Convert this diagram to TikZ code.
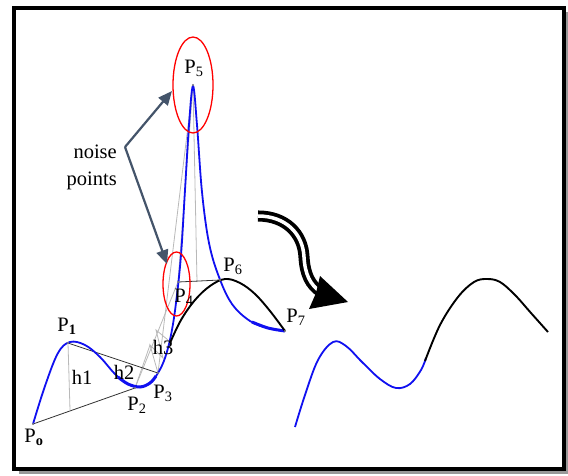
\documentclass[tikz,border=0pt]{standalone}
\usepackage{fontspec}
\setmainfont{Liberation Serif}
\usetikzlibrary{arrows.meta}
\definecolor{slate}{HTML}{44546A}
\definecolor{cblue}{HTML}{1010F0}
\tikzset{
  lbl/.style={inner sep=0pt, font=\fontsize{20.5}{27}\selectfont},
  greyline/.style={draw=gray!55, line width=0.8pt},
  chord/.style={draw=black!80, line width=0.8pt},
  bluecurve/.style={draw=cblue, line width=1.8pt},
  blackcurve/.style={draw=black, line width=1.9pt},
  noisearrow/.style={draw=slate, line width=2.2pt, -{Triangle[length=14pt,width=12pt]}},
  ring/.style={draw=red, line width=1.3pt},
}
\begin{document}
\begin{tikzpicture}[x=1pt,y=-1pt]
\useasboundingbox (0,0) rectangle (568,475);
% frame with shadow
\fill[gray!80] (19,12) rectangle (568,474);
\fill[white] (14,8) rectangle (564,469);
\draw[line width=4pt] (14,8) rectangle (564,469);

% points
\coordinate (P0) at (33,424);
\coordinate (P1) at (68,343);
\coordinate (P2) at (135,388);
\coordinate (P3) at (158,373);
\coordinate (P4) at (178,282);
\coordinate (P5) at (193,85);
\coordinate (P6) at (220,280);
\coordinate (P7) at (285,331);
\coordinate (F1) at (70,410);
\coordinate (F5) at (197,282);
\coordinate (Z1) at (150,345);
\coordinate (Z2) at (163,358);
\coordinate (Z3) at (156,330);
\coordinate (Z4) at (168,340);

% grey construction lines
\path[greyline] (P1) -- (F1);
\path[greyline] (P2) -- (P4);
\path[greyline] (P3) -- (P5);
\path[greyline] (P4) -- (P5);
\path[greyline] (P5) -- (F5);
\path[greyline] (P3) -- (Z1) -- (Z2) -- (Z3) -- (Z4);
\path[greyline] (P2) -- (Z1);

% chords
\path[chord] (P0) -- (P2);
\path[chord] (P1) -- (P3);
\path[chord] (P4) -- (P6);

% left blue curve
\draw[bluecurve] plot[smooth, tension=0.6] coordinates {(33,424) (45,386) (58,353) (70,342) (85,345) (100,357) (115,374) (128,384) (140,387) (150,383) (158,373) (165,358) (171,335) (176,303) (181,255) (185,190) (189,125) (193,86) (197,125) (202,192) (209,243) (219,277) (232,304) (250,321) (268,328) (285,331)};
\draw[cblue, line width=3pt] plot[smooth, tension=0.6] coordinates {(118,377) (128,384) (140,387) (150,383) (156,376)};
\draw[cblue, line width=3pt] plot[smooth, tension=0.6] coordinates {(252,322) (268,328) (285,331)};
% left black curve
\draw[blackcurve] plot[smooth, tension=0.6] coordinates {(170,343) (181,320) (195,300) (210,286) (225,279) (240,283) (255,294) (270,311) (285,331)};

% right curve
\draw[bluecurve] plot[smooth, tension=0.6] coordinates {(295,427) (305,395) (318,360) (333,342) (346,346) (362,362) (380,379) (396,388) (410,384) (421,370) (426,358)};
\draw[blackcurve] plot[smooth, tension=0.6] coordinates {(425,361) (440,325) (458,297) (474,282) (487,279) (500,282) (515,295) (531,313) (548,332)};

% points marks
\foreach \p in {P0,P1,P2,P3,P4,P5,P6,P7} \fill[gray] (\p) circle (1.2pt);

% red ellipses
\draw[ring] (193,85) ellipse [x radius=20, y radius=48];
\draw[ring] (176.5,284) ellipse [x radius=13.5, y radius=32];
\coordinate (E5) at (172,91);
\coordinate (E4) at (167,264);

% labels
\node[lbl] (L0) at (34,437) {P\textsubscript{\textbf{o}}};
\node[lbl] (L1) at (67,326) {P\textsubscript{\textbf{1}}};
\node[lbl] (L2) at (137,405) {P\textsubscript{2}};
\node[lbl] (L3) at (163,393) {P\textsubscript{3}};
\node[lbl] (L4) at (184,297) {P\textsubscript{4}};
\node[lbl] (L5) at (194,68) {P\textsubscript{5}};
\node[lbl] (L6) at (233,266) {P\textsubscript{6}};
\node[lbl] (L7) at (296,317) {P\textsubscript{7}};
\node[lbl] (H1) at (82,377) {h1};
\node[lbl] (H2) at (124,372) {h2};
\node[lbl] (H3) at (163,347) {h3};
\node[lbl, align=right, anchor=east] (noise) at (117,167) {noise\\points};

% noise arrows
\coordinate (V) at (125,147);
\draw[noisearrow] (V) -- (E5);
\draw[noisearrow] (V) -- (E4);

% big double arrow
\draw[line width=3.8pt, double=white, double distance=3.5pt] (258,216) .. controls (286,216) and (303,234) .. (304,257) .. controls (305,274) and (310,285) .. (321,292);
\coordinate (T) at (348,302);
\coordinate (B1) at (320,276);
\coordinate (B2) at (309,309);
\fill (T) -- (B1) -- (316,293) -- (B2) -- cycle;
\end{tikzpicture}
\end{document}
